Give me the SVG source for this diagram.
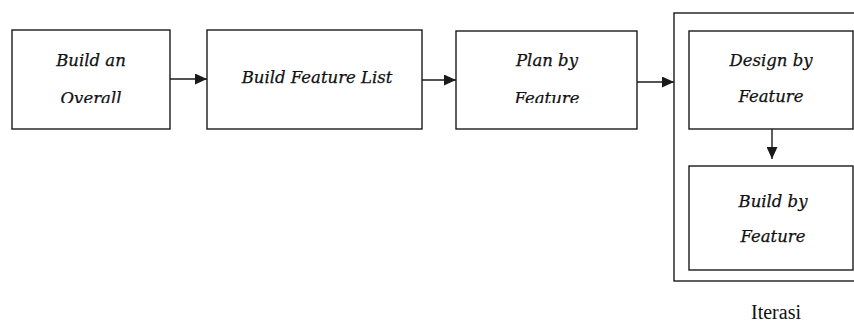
<svg xmlns="http://www.w3.org/2000/svg" width="854" height="323" viewBox="0 0 854 323">
  <style>
    .box { fill: #ffffff; stroke: #1a1a1a; stroke-width: 1.4; }
    .lbl { font-family: "DejaVu Serif", "Liberation Serif", serif; font-style: italic; font-size: 16.5px; fill: #111111; text-anchor: middle; stroke: #111111; stroke-width: 0.25; }
    .cap { font-family: "Liberation Serif", "DejaVu Serif", serif; font-size: 20px; fill: #111111; text-anchor: middle; }
    .conn { stroke: #1a1a1a; stroke-width: 1.4; fill: none; }
  </style>
  <defs>
    <marker id="arrow" markerWidth="13" markerHeight="11" refX="12" refY="5.5" orient="auto" markerUnits="userSpaceOnUse">
      <path d="M0,0 L12,5.5 L0,11 Z" fill="#1a1a1a"/>
    </marker>
    <clipPath id="clip1"><rect x="12" y="30" width="158" height="73"/></clipPath>
    <clipPath id="clip3"><rect x="456" y="31" width="181" height="72"/></clipPath>
  </defs>
  <rect width="854" height="323" fill="#ffffff"/>

  <g id="iterasi">
    <rect class="box" x="674" y="13" width="200" height="268"/>
    <text class="cap" x="776" y="319">Iterasi</text>
  </g>

  <g id="build-overall">
    <rect class="box" x="12" y="30" width="158" height="99"/>
    <g clip-path="url(#clip1)">
      <text class="lbl" x="91" y="66">Build an</text>
      <text class="lbl" x="91" y="104">Overall</text>
    </g>
  </g>

  <g id="build-feature-list">
    <rect class="box" x="207" y="30" width="215" height="99"/>
    <text class="lbl" x="317" y="83">Build Feature List</text>
  </g>

  <g id="plan-by-feature">
    <rect class="box" x="456" y="31" width="181" height="98"/>
    <g clip-path="url(#clip3)">
      <text class="lbl" x="547" y="66">Plan by</text>
      <text class="lbl" x="547" y="104">Feature</text>
    </g>
  </g>

  <g id="design-by-feature">
    <rect class="box" x="689" y="31" width="164" height="98"/>
    <text class="lbl" x="771" y="66">Design by</text>
    <text class="lbl" x="771" y="102">Feature</text>
  </g>

  <g id="build-by-feature">
    <rect class="box" x="689" y="166" width="164" height="104"/>
    <text class="lbl" x="773" y="207">Build by</text>
    <text class="lbl" x="773" y="242">Feature</text>
  </g>

  <g id="connectors">
    <line class="conn" x1="170" y1="79" x2="207" y2="79" marker-end="url(#arrow)"/>
    <line class="conn" x1="422" y1="80" x2="456" y2="80" marker-end="url(#arrow)"/>
    <line class="conn" x1="637" y1="82" x2="674" y2="82" marker-end="url(#arrow)"/>
    <line class="conn" x1="772" y1="129" x2="772" y2="159" marker-end="url(#arrow)"/>
  </g>
</svg>
